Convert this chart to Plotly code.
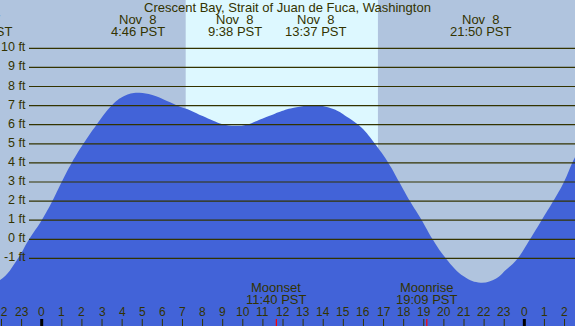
import plotly.graph_objects as go

# ---- data ----
tide_hours = [-2.97, -2.07, -1.18, -0.63, 0.0, 0.53, 0.99, 1.49, 2.07, 2.73, 3.48, 4.1, 4.77,
              5.5, 6.2, 6.88, 7.4, 8.0, 8.53, 9.0, 9.63, 10.2, 10.7, 11.3, 11.85, 12.6, 13.62,
              14.5, 15.17, 15.9, 16.57, 17.24, 17.78, 18.31, 18.90, 19.44, 20.10, 21.0, 21.83,
              22.6, 23.09, 23.67, 24.28, 24.86, 25.44, 25.97, 26.38, 26.6]
tide_ft = [-2.35, -2.13, -1.0, 0.0, 1.0, 2.0, 3.0, 4.0, 5.0, 6.0, 7.0, 7.5, 7.67,
           7.55, 7.25, 6.94, 6.75, 6.45, 6.21, 6.02, 5.94, 6.0, 6.2, 6.45, 6.68, 6.9, 7.0,
           6.82, 6.42, 5.85, 5.0, 4.0, 3.0, 2.0, 1.0, 0.0, -1.0, -1.95, -2.27,
           -2.05, -1.6, -1.0, 0.0, 1.0, 2.0, 3.0, 4.0, 4.45]

event_hours = [-2.97, 4.77, 9.63, 13.62, 21.83]
event_dates = ["Nov  7", "Nov  8", "Nov  8", "Nov  8", "Nov  8"]
event_times = ["21:02 PST", "4:46 PST", "9:38 PST", "13:37 PST", "21:50 PST"]

moon_hours = [11.67, 19.15]
moon_names = ["Moonset", "Moonrise"]
moon_times = ["11:40 PST", "19:09 PST"]

sunrise_h = 7.16
sunset_h = 16.72

level_ft = [-1, 0, 1, 2, 3, 4, 5, 6, 7, 8, 9, 10]
level_labels = ["-1 ft", "0 ft", "1 ft", "2 ft", "3 ft", "4 ft", "5 ft", "6 ft", "7 ft", "8 ft", "9 ft", "10 ft"]

tick_hours = list(range(-2, 27))
tick_labels = [str(h % 24) for h in tick_hours]

title = "Crescent Bay, Strait of Juan de Fuca, Washington"

# ---- styling ----
W, H = 575, 326
XR = [-2.074, 26.52]
YR = [-4.54, 12.53]
NIGHT = "#B0C4DE"
DAY = "#DDF8FF"
WATER = "#4263D8"
INK = "#333300"
FONT = "Liberation Sans"


def xpaper(h):
    return (h - XR[0]) / (XR[1] - XR[0])


def ypix(p):
    return 1 - p / H


fig = go.Figure()
fig.add_trace(go.Scatter(x=tide_hours, y=[YR[0] - 2] * len(tide_hours), mode="lines",
                         line=dict(width=0), hoverinfo="skip", showlegend=False))
fig.add_trace(go.Scatter(x=tide_hours, y=tide_ft, mode="lines",
                         line=dict(width=0, shape="spline", smoothing=1.2),
                         fill="tonexty", fillcolor=WATER, hoverinfo="skip", showlegend=False))

shapes = [dict(type="rect", xref="x", yref="paper", x0=sunrise_h, x1=sunset_h, y0=0, y1=1,
               fillcolor=DAY, line=dict(width=0), layer="below")]
for v in level_ft:
    shapes.append(dict(type="line", xref="paper", yref="y", x0=29 / W, x1=1, y0=v, y1=v,
                       line=dict(color=INK, width=1.2), layer="above"))
for h in tick_hours:
    wide = h % 24 == 0
    shapes.append(dict(type="line", xref="x", yref="paper", x0=h, x1=h, y0=0, y1=7 / H,
                       line=dict(color="#000000" if wide else INK, width=3 if wide else 1), layer="above"))
for h in moon_hours:
    shapes.append(dict(type="line", xref="x", yref="paper", x0=h, x1=h, y0=0, y1=7 / H,
                       line=dict(color="#FF0000", width=1.2), layer="above"))

ann = []
ann.append(dict(text=title, xref="paper", yref="paper", x=287 / W, y=ypix(7.3), showarrow=False,
                xanchor="center", yanchor="middle", font=dict(size=13, color=INK, family=FONT)))
for h, d, t in zip(event_hours, event_dates, event_times):
    ann.append(dict(text=d, xref="paper", yref="paper", x=xpaper(h), y=ypix(19.5), showarrow=False,
                    xanchor="center", yanchor="middle", font=dict(size=13, color=INK, family=FONT)))
    ann.append(dict(text=t, xref="paper", yref="paper", x=xpaper(h), y=ypix(31.4), showarrow=False,
                    xanchor="center", yanchor="middle", font=dict(size=13, color=INK, family=FONT)))
for v, lab in zip(level_ft, level_labels):
    ann.append(dict(text=lab, xref="paper", yref="y", x=27.5 / W, y=v, yshift=1, showarrow=False,
                    xanchor="right", yanchor="middle", font=dict(size=12.5, color=INK, family=FONT)))
for h, n, t in zip(moon_hours, moon_names, moon_times):
    ann.append(dict(text=n, xref="paper", yref="paper", x=xpaper(h), y=ypix(287.2), showarrow=False,
                    xanchor="center", yanchor="middle", font=dict(size=13, color=INK, family=FONT)))
    ann.append(dict(text=t, xref="paper", yref="paper", x=xpaper(h), y=ypix(299.5), showarrow=False,
                    xanchor="center", yanchor="middle", font=dict(size=13, color=INK, family=FONT)))
for h, lab in zip(tick_hours, tick_labels):
    ann.append(dict(text=lab, xref="paper", yref="paper", x=xpaper(h), y=ypix(312.3), showarrow=False,
                    xanchor="center", yanchor="middle", font=dict(size=12, color=INK, family=FONT)))

fig.update_layout(
    width=W, height=H, margin=dict(l=0, r=0, t=0, b=0),
    paper_bgcolor=NIGHT, plot_bgcolor=NIGHT,
    xaxis=dict(range=XR, visible=False, fixedrange=True),
    yaxis=dict(range=YR, visible=False, fixedrange=True),
    shapes=shapes, annotations=ann, showlegend=False,
)

fig.write_html("out.html", config={"displayModeBar": False},
               post_script="document.body.style.margin='0';document.body.style.overflow='hidden';")
